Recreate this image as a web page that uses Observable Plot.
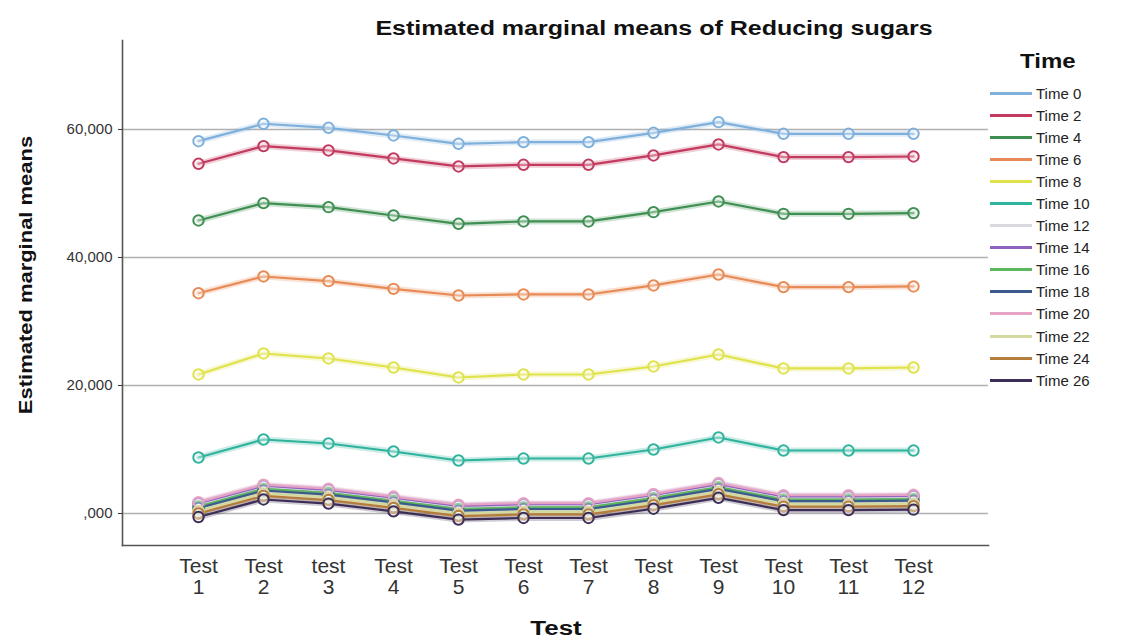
<!DOCTYPE html>
<html>
<head>
<meta charset="utf-8">
<script src="https://cdn.jsdelivr.net/npm/d3@7"></script>
<script src="https://cdn.jsdelivr.net/npm/@observablehq/plot@0.6"></script>
<style>
  body { margin: 0; background: #fff; font-family: "Liberation Sans", Arial, sans-serif; }
  #wrap { position: relative; width: 1135px; height: 639px; overflow: hidden; }
  #chart { position: absolute; left: 0; top: 0; }
  .title { position: absolute; left: 654px; top: 17px; transform: translateX(-50%) scaleX(1.25); white-space: nowrap; font-weight: bold; font-size: 20px; color: #111; }
  .ylab { position: absolute; left: 26px; top: 275px; transform: translate(-50%, -50%) rotate(-90deg) scaleX(1.22); white-space: nowrap; font-weight: bold; font-size: 18px; color: #111; }
  .xlab { position: absolute; left: 556px; top: 617px; transform: translateX(-50%) scaleX(1.3); font-weight: bold; font-size: 20px; color: #111; }
  #legend { position: absolute; left: 990px; top: 50px; }
  #legend .lt { font-weight: bold; font-size: 20px; color: #111; margin-left: 30px; height: 32px; transform: scaleX(1.2); transform-origin: left center; }
  #legend .row { display: flex; align-items: center; height: 22.1px; font-size: 15px; color: #222; }
  #legend .sw { width: 42px; height: 3px; margin-right: 4px; }
</style>
</head>
<body>
<div id="wrap">
  <div id="chart"></div>
  <div class="title">Estimated marginal means of Reducing sugars</div>
  <div class="ylab">Estimated marginal means</div>
  <div class="xlab">Test</div>
  <div id="legend"></div>
</div>
<script>
const tests = ["Test 1","Test 2","test 3","Test 4","Test 5","Test 6","Test 7","Test 8","Test 9","Test 10","Test 11","Test 12"];
const times = ["Time 0","Time 2","Time 4","Time 6","Time 8","Time 10","Time 12","Time 14","Time 16","Time 18","Time 20","Time 22","Time 24","Time 26"];
const colors = ["#7fb0dc","#c23a5e","#3f8f52","#e88a55","#dfe24a","#2fb39c","#d9d9e2","#8d62c0","#5cb85c","#3e5a8c","#e7a3c4","#d4da9e","#b47d3c","#3d2e58"];

const time0  = [58170, 60890, 60260, 59060, 57760, 58020, 58020, 59480, 61140, 59320, 59320, 59320];
const time2  = [54640, 57400, 56720, 55470, 54220, 54480, 54480, 55940, 57660, 55680, 55680, 55780];
const time4  = [45780, 48490, 47860, 46560, 45260, 45630, 45630, 47080, 48750, 46820, 46820, 46930];
const time6  = [34420, 37030, 36300, 35100, 34060, 34220, 34220, 35630, 37340, 35370, 35370, 35470];
const time8  = [21720, 25000, 24220, 22810, 21250, 21720, 21720, 22970, 24840, 22660, 22660, 22810];
const time10 = [8750, 11560, 10940, 9690, 8280, 8590, 8590, 10000, 11880, 9840, 9840, 9840];
const time12 = [1450, 4190, 3550, 2330, 1050, 1300, 1300, 2750, 4450, 2530, 2530, 2600];
const time14 = [1600, 4340, 3700, 2480, 1200, 1450, 1450, 2900, 4600, 2680, 2680, 2750];
const time16 = [1100, 3840, 3200, 1980, 700, 950, 950, 2400, 4100, 2180, 2180, 2250];
const time18 = [850, 3590, 2950, 1730, 450, 700, 700, 2150, 3850, 1930, 1930, 2000];
const time20 = [1770, 4510, 3870, 2650, 1370, 1620, 1620, 3070, 4770, 2850, 2850, 2920];
const time22 = [400, 3140, 2500, 1280, 0, 250, 250, 1700, 3400, 1480, 1480, 1550];
const time24 = [0, 2740, 2100, 880, -400, -150, -150, 1300, 3000, 1080, 1080, 1150];
const time26 = [-550, 2190, 1550, 330, -950, -700, -700, 750, 2450, 530, 530, 600];

const yTicks = [0, 20000, 40000, 60000];

const series = [time0, time2, time4, time6, time8, time10, time12, time14, time16, time18, time20, time22, time24, time26];
const data = [];
series.forEach((vals, i) => vals.forEach((v, j) => data.push({time: times[i], test: tests[j], value: v})));

const chart = Plot.plot({
  width: 1135,
  height: 639,
  marginLeft: 122,
  marginRight: 147,
  marginTop: 40,
  marginBottom: 94,
  style: {fontFamily: "Liberation Sans, Arial, sans-serif", background: "transparent"},
  x: {type: "point", domain: tests, padding: 1.16, label: null},
  y: {domain: [-5000, 73900], label: null},
  color: {domain: times, range: colors},
  marks: [
    Plot.ruleY(yTicks, {stroke: "#b0b0b0", strokeWidth: 1.5}),
    Plot.frame({anchor: "left", stroke: "#555", strokeWidth: 1.6}),
    Plot.frame({anchor: "bottom", stroke: "#555", strokeWidth: 1.6}),
    Plot.axisY({ticks: yTicks, tickSize: 4, tickPadding: 6, fontSize: 15, color: "#333",
      tickFormat: d => d === 0 ? ",000" : d3.format(",")(d), label: null}),
    Plot.axisX({tickSize: 0, tickPadding: 13, fontSize: 21, color: "#333", lineHeight: 1.0,
      tickFormat: d => d.replace(" ", "\n"), label: null}),
    Plot.line(data, {x: "test", y: "value", z: "time", stroke: "time", strokeWidth: 6, strokeOpacity: 0.25}),
    Plot.line(data, {x: "test", y: "value", z: "time", stroke: "time", strokeWidth: 2.2}),
    Plot.dot(data, {x: "test", y: "value", stroke: "time", r: 5.2, strokeWidth: 2, fill: "white", fillOpacity: 0.35})
  ]
});
document.getElementById("chart").appendChild(chart);

const legend = document.getElementById("legend");
const lt = document.createElement("div");
lt.className = "lt";
lt.textContent = "Time";
legend.appendChild(lt);
times.forEach((t, i) => {
  const row = document.createElement("div");
  row.className = "row";
  const sw = document.createElement("div");
  sw.className = "sw";
  sw.style.background = colors[i];
  const tx = document.createElement("span");
  tx.textContent = t;
  row.appendChild(sw);
  row.appendChild(tx);
  legend.appendChild(row);
});
</script>
</body>
</html>
